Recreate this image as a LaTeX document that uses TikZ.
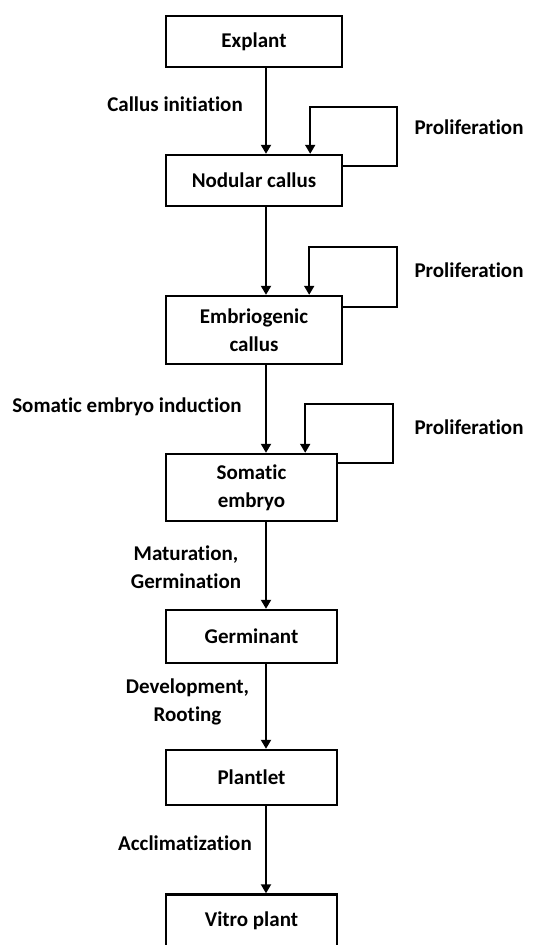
\documentclass[tikz,border=0pt]{standalone}
\usepackage{fontspec}
\setmainfont[Ligatures=NoCommon]{Carlito}
\usetikzlibrary{arrows.meta}

\tikzset{
    stage/.style={draw, line width=2.4pt, minimum width=176pt, align=center, inner sep=0pt},
    flow/.style={line width=2pt, -{Triangle[length=9pt,width=10pt]}},
    note/.style={align=center}
}

\begin{document}
\begin{tikzpicture}[x=1pt,y=-1pt, font=\bfseries\fontsize{21}{28}\selectfont]
    \useasboundingbox (0,0) rectangle (537,945);
    %\draw[help lines,step=50] (0,0) grid (537,945);
    \coordinate (spine) at (266,0);
    % stages
    \node[stage, minimum height=51pt] (explant) at (254,41.5) {Explant};
    \node[stage, minimum height=51pt] (nodular) at (254,180.5) {Nodular callus};
    \node[stage, minimum height=68pt] (embrio) at (254,330) {Embriogenic\\callus};
    \node[stage, minimum height=67pt, minimum width=171pt] (somatic) at (251.5,487.5) {Somatic\\embryo};
    \node[stage, minimum height=53pt, minimum width=171pt] (germinant) at (251.5,636.5) {Germinant};
    \node[stage, minimum height=55pt, minimum width=171pt] (plantlet) at (251.5,777.5) {Plantlet};
    \node[stage, minimum height=53pt, minimum width=171pt] (vitro) at (251.5,921) {Vitro plant};
    % main flow
    \draw[flow] (explant.south -| spine) -- (nodular.north -| spine);
    \draw[flow] (nodular.south -| spine) -- (embrio.north -| spine);
    \draw[flow] (embrio.south -| spine) -- (somatic.north -| spine);
    \draw[flow] (somatic.south -| spine) -- (germinant.north -| spine);
    \draw[flow] (germinant.south -| spine) -- (plantlet.north -| spine);
    \draw[flow] (plantlet.south -| spine) -- (vitro.north -| spine);
    % proliferation loops
    \draw[flow] ([yshift=-12pt]nodular.north east) -| (397,107) -| ([xshift=-33pt]nodular.north east);
    \draw[flow] ([yshift=-12pt]embrio.north east) -| (397,247) -| ([xshift=-34pt]embrio.north east);
    \draw[flow] ([yshift=-10pt]somatic.north east) -| (393,404) -| ([xshift=-33pt]somatic.north east);
    % labels
    \node[note] (initiation) at (175,104) {Callus initiation};
    \node[note] (induction) at (127,407) {Somatic embryo induction};
    \node[note] (maturation) at (186,567) {Maturation,\\Germination};
    \node[note] (development) at (187.5,702) {Development,\\Rooting};
    \node[note] (acclim) at (185,843) {Acclimatization};
    \node[anchor=west] (prolifA) at (411,127) {Proliferation};
    \node[anchor=west] (prolifB) at (411,270) {Proliferation};
    \node[anchor=west] (prolifC) at (411,427) {Proliferation};
\end{tikzpicture}
\end{document}
